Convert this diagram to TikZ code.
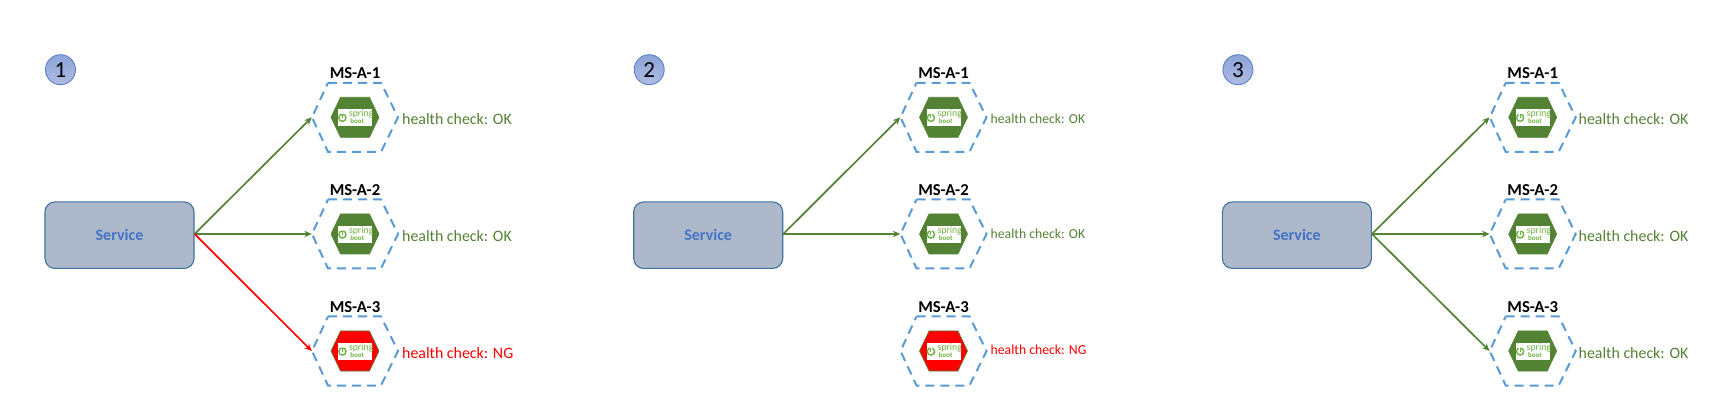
\documentclass[tikz,border=0pt]{standalone}
\usepackage{fontspec}
\setmainfont{Carlito}
\usetikzlibrary{arrows.meta}
\definecolor{okgreen}{HTML}{548235}
\definecolor{nored}{HTML}{FF0000}
\definecolor{hexblue}{HTML}{5B9BD5}
\definecolor{svcfill}{HTML}{ADB9CA}
\definecolor{svcline}{HTML}{41719C}
\definecolor{svctext}{HTML}{4472C4}
\definecolor{springgreen}{HTML}{6DB33F}
\definecolor{badgetop}{HTML}{8CA4DA}
\definecolor{badgebot}{HTML}{AFBCE2}
\definecolor{badgeline}{HTML}{5B82C8}
\tikzset{
  x=1pt,y=-1pt,
  svcbox/.style={draw=svcline,line width=1.1pt,fill=svcfill,rounded corners=10pt,minimum width=149pt,minimum height=66.5pt,inner sep=0pt,
     text=svctext,font=\fontsize{16}{18}\selectfont\bfseries},
  badge/.style={circle,draw=badgeline,line width=0.9pt,top color=badgetop,bottom color=badgebot,minimum size=30pt,inner sep=0pt,font=\fontsize{23}{26}\selectfont},
  msname/.style={inner sep=0pt,font=\fontsize{16.7}{18}\selectfont\bfseries},
  hexanchor/.style={inner sep=0pt,minimum width=86pt,minimum height=69pt},
  hexout/.style={draw=hexblue,line width=2pt,dash pattern=on 9pt off 6pt},
  okline/.style={draw=okgreen,line width=1.7pt,-{Stealth[length=7.5pt,width=6.5pt]}},
  ngline/.style={okline,draw=nored,fill=nored},
  status/.style={inner sep=0pt,anchor=west,font=\fontsize{15.9}{18}\selectfont},
  statussmall/.style={status,font=\fontsize{13.7}{16}\selectfont},
}
% #1 node id, #2 title, #3 centre x, #4 centre y, #5 inner fill
\newcommand{\msunit}[5]{%
  \node[msname] (t#1) at (#3,#4-44) {#2};
  \node[hexanchor] (h#1) at (#3,#4) {};
  \draw[hexout] (#3-27,#4-34.5) -- (#3+26,#4-34.5) -- (#3+43,#4) -- (#3+26,#4+34.5) -- (#3-27,#4+34.5) -- (#3-43,#4) -- cycle;
  \draw[draw=okgreen,line width=0.6pt,fill=#5] (#3-24,#4) -- (#3-14.5,#4-20) -- (#3+14.5,#4-20) -- (#3+24,#4) -- (#3+14.5,#4+20) -- (#3-14.5,#4+20) -- cycle;
  \fill[white] (#3-17,#4-8.2) rectangle (#3+17,#4+8.8);
  \draw[springgreen,line width=1.4pt] (#3-12.6,#4+0.5) circle (3.6);
  \draw[white,line width=1.6pt] (#3-12.6,#4-3.8) -- (#3-12.6,#4+0.3);
  \draw[springgreen,line width=0.9pt] (#3-12.6,#4-2.8) -- (#3-12.6,#4+0.6);
  \node[inner sep=0pt,text=springgreen,font=\fontsize{9.8}{11}\selectfont] (s#1) at (#3+6.2,#4-3) {spring};
  \node[inner sep=0pt,text=springgreen,font=\fontsize{7}{8}\selectfont\bfseries] (b#1) at (#3+2.2,#4+4.2) {boot};
}
\begin{document}
\begin{tikzpicture}
\useasboundingbox (0,0) rectangle (1734,411);
\fill[white] (0,0) rectangle (1734,411);
% panel 1
\node[badge] (c1) at (60.5,69.7) {1};
\node[svcbox] (a1) at (119.5,235.2) {Service};
\coordinate (p1) at (a1.east |- 0,234);
\msunit{a11}{MS-A-1}{355}{117.3}{okgreen}
\msunit{a12}{MS-A-2}{355}{234}{okgreen}
\msunit{a13}{MS-A-3}{355}{351}{nored}
\draw[okline] (p1) -- (ha11.west);
\draw[okline] (p1) -- (ha12.west);
\draw[ngline] (p1) -- (ha13.west);
\node[status,text=okgreen] (l11) at (402,118.8) {health check: OK};
\node[status,text=okgreen] (l12) at (402,235.6) {health check: OK};
\node[status,text=nored] (l13) at (402,352.6) {health check: NG};
% panel 2
\node[badge] (c2) at (649.2,69.7) {2};
\node[svcbox] (a2) at (708.2,235.2) {Service};
\coordinate (p2) at (a2.east |- 0,234);
\msunit{a21}{MS-A-1}{943.5}{117.3}{okgreen}
\msunit{a22}{MS-A-2}{943.5}{234}{okgreen}
\msunit{a23}{MS-A-3}{943.5}{351}{nored}
\draw[okline] (p2) -- (ha21.west);
\draw[okline] (p2) -- (ha22.west);
\node[statussmall,text=okgreen] (l21) at (990.5,118.4) {health check: OK};
\node[statussmall,text=okgreen] (l22) at (990.5,234) {health check: OK};
\node[statussmall,text=nored] (l23) at (990.5,349.4) {health check: NG};
% panel 3
\node[badge] (c3) at (1237.9,69.7) {3};
\node[svcbox] (a3) at (1296.9,235.2) {Service};
\coordinate (p3) at (a3.east |- 0,234);
\msunit{a31}{MS-A-1}{1532.7}{117.3}{okgreen}
\msunit{a32}{MS-A-2}{1532.7}{234}{okgreen}
\msunit{a33}{MS-A-3}{1532.7}{351}{okgreen}
\draw[okline] (p3) -- (ha31.west);
\draw[okline] (p3) -- (ha32.west);
\draw[okline] (p3) -- (ha33.west);
\node[status,text=okgreen] (l31) at (1578.5,118.6) {health check: OK};
\node[status,text=okgreen] (l32) at (1578.5,235.6) {health check: OK};
\node[status,text=okgreen] (l33) at (1578.5,352.6) {health check: OK};
\end{tikzpicture}
\end{document}
